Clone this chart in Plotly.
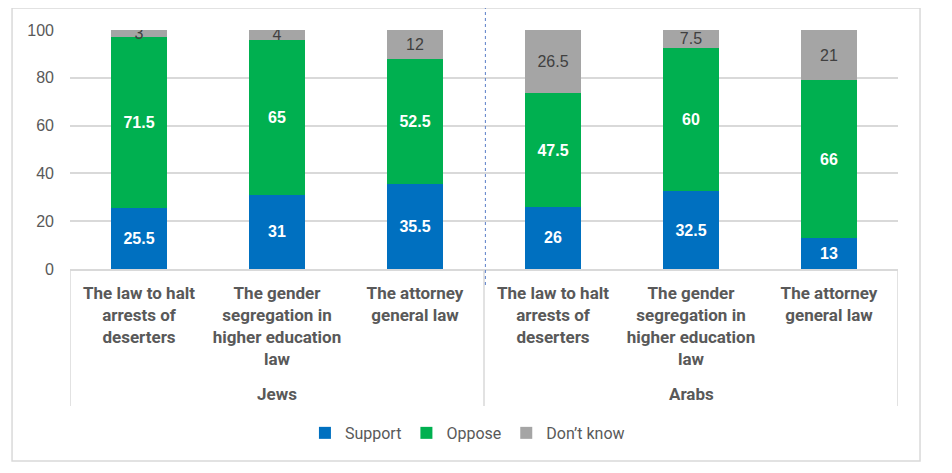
import plotly.graph_objects as go

# data (percent)
groups = ['Jews', 'Arabs']
laws = ['The law to halt<br>arrests of<br>deserters',
        'The gender<br>segregation in<br>higher education<br>law',
        'The attorney<br>general law']
support = [25.5, 31, 35.5, 26, 32.5, 13]
oppose = [71.5, 65, 52.5, 47.5, 60, 66]
dont_know = [3, 4, 12, 26.5, 7.5, 21]

tick_text = laws + laws
x_pos = list(range(len(tick_text)))

NARROW = 'Roboto, sans-serif'
GRAY_TXT = '#595959'
GRID = '#d9d9d9'

fig = go.Figure()

series = [
    ('Support', support, '#0070C0', dict(color='white', size=16, family='Liberation Sans, Arial', weight='bold')),
    ('Oppose', oppose, '#00B050', dict(color='white', size=16, family='Liberation Sans, Arial', weight='bold')),
    ("Don’t know", dont_know, '#A5A5A5', dict(color='#404040', size=16, family='Liberation Sans, Arial')),
]
for name, vals, color, tfont in series:
    fig.add_trace(go.Bar(
        x=x_pos, y=vals, name=name,
        marker_color=color, marker_line_width=0,
        text=[f'{v:g}' for v in vals],
        textposition='inside', insidetextanchor='middle', textangle=0,
        constraintext='none', textfont=tfont,
        hoverinfo='skip'
    ))

shapes = []
# dividers under the category labels
for xv in [-0.5, 2.5, 5.5]:
    shapes.append(dict(type='line', xref='x', yref='paper', x0=xv, x1=xv,
                       y0=0, y1=-0.573, line=dict(color=GRID, width=1.5)))
# dashed separator between groups
shapes.append(dict(type='line', xref='x', yref='paper', x0=2.51, x1=2.51,
                   y0=-0.067, y1=1.092, line=dict(color='#5B7FC8', width=1, dash='dot')))
# outer border
shapes.append(dict(type='rect', xref='paper', yref='paper', x0=-0.070, x1=1.0266,
                   y0=-0.803, y1=1.092, line=dict(color=GRID, width=1.5),
                   fillcolor='rgba(0,0,0,0)', layer='below'))

annotations = []
for i, g in enumerate(groups):
    annotations.append(dict(x=1 + 3 * i, y=-0.523, xref='x', yref='paper',
                            text=f'<b>{g}</b>', showarrow=False, yanchor='middle',
                            font=dict(family=NARROW, size=17, color=GRAY_TXT)))

# page body adds an 8px offset, margins compensate for it
fig.update_layout(
    width=952, height=473,
    margin=dict(l=62, r=62, t=22, b=212),
    barmode='stack', bargap=0.594,
    plot_bgcolor='white', paper_bgcolor='white',
    showlegend=True,
    legend=dict(orientation='h', x=0.48, xanchor='center', y=-0.686, yanchor='middle',
                font=dict(family=NARROW, size=16, color=GRAY_TXT),
                traceorder='normal', itemwidth=30),
    shapes=shapes,
    annotations=annotations,
    xaxis=dict(range=[-0.5, 5.5], tickvals=x_pos,
               ticktext=[f'<b>{t}</b>' for t in tick_text],
               tickfont=dict(family=NARROW, size=17, color=GRAY_TXT),
               showgrid=False, showline=True, linecolor=GRID, linewidth=1.5,
               ticks='', ticklabelstandoff=8, fixedrange=True),
    yaxis=dict(range=[0, 100], tickvals=[0, 20, 40, 60, 80, 100],
               tickfont=dict(family='Liberation Sans, Arial', size=16, color=GRAY_TXT),
               showgrid=True, gridcolor=GRID, gridwidth=1.5, zeroline=False,
               showline=False, ticks='', ticklabelstandoff=15, fixedrange=True),
)

fig.write_html("out.html")
